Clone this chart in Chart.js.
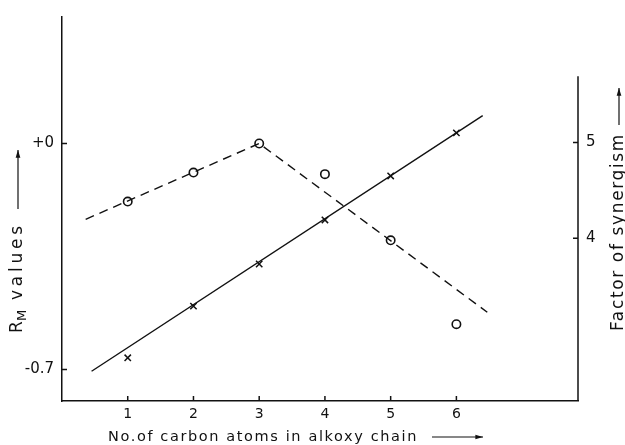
<!DOCTYPE html>
<html>
<head>
<meta charset="utf-8">
<script src="https://cdn.jsdelivr.net/npm/chart.js@4.4.1/dist/chart.umd.min.js"></script>
<style>
  html, body { margin: 0; padding: 0; background: #fff; }
  #wrap { width: 625px; height: 445px; }
</style>
</head>
<body>
<div id="wrap"><canvas id="chart" width="625" height="445"></canvas></div>
<script>
// measured points
const carbonAtoms = [1, 2, 3, 4, 5, 6];
const rmValues = [-0.18, -0.09, 0, -0.095, -0.30, -0.56];
const synergism = [2.75, 3.29, 3.73, 4.19, 4.65, 5.10];

// drawn trend lines
const rmLineX = [0.36, 3, 6.47];
const rmLineY = [-0.235, 0, -0.523];
const synLineX = [0.45, 6.40];
const synLineY = [2.61, 5.28];

// ticks
const xTicks = [1, 2, 3, 4, 5, 6];
const rmTicks = [-0.7, 0];
const rmTickLabels = ['-0.7', '+0'];
const synTicks = [4, 5];

const ink = '#111';
const font = "'DejaVu Sans', sans-serif";

const toPts = (xs, ys) => xs.map((x, i) => ({ x: x, y: ys[i] }));

// spread text out so it fills a given width (the scan uses wide lettering)
function spaced(ctx, text, x, y, width) {
    ctx.letterSpacing = '0px';
    const natural = ctx.measureText(text).width;
    ctx.letterSpacing = Math.max(0, (width - natural) / text.length) + 'px';
    ctx.fillText(text, x, y);
    ctx.letterSpacing = '0px';
}

// inward tick marks, short right axis, axis titles
const decor = {
    id: 'decor',
    afterDraw(chart) {
        const ctx = chart.ctx;
        const { x, y, y1 } = chart.scales;
        const area = chart.chartArea;
        ctx.save();
        ctx.strokeStyle = ink;
        ctx.lineWidth = 1.5;

        // right axis line (starts below the top of the left one)
        ctx.beginPath();
        ctx.moveTo(area.right, y1.getPixelForValue(5.69));
        ctx.lineTo(area.right, area.bottom);
        ctx.stroke();

        ctx.beginPath();
        xTicks.forEach(v => {
            const px = x.getPixelForValue(v);
            ctx.moveTo(px, area.bottom);
            ctx.lineTo(px, area.bottom - 5);
        });
        rmTicks.forEach(v => {
            const py = y.getPixelForValue(v);
            ctx.moveTo(area.left, py);
            ctx.lineTo(area.left + 5, py);
        });
        synTicks.forEach(v => {
            const py = y1.getPixelForValue(v);
            ctx.moveTo(area.right, py);
            ctx.lineTo(area.right - 5, py);
        });
        ctx.stroke();

        ctx.fillStyle = ink;
        ctx.lineWidth = 1.2;
        const arrow = (x0, y0, x1, y1) => {
            ctx.beginPath();
            ctx.moveTo(x0, y0);
            ctx.lineTo(x1, y1);
            ctx.stroke();
            const a = Math.atan2(y1 - y0, x1 - x0);
            ctx.beginPath();
            ctx.moveTo(x1, y1);
            ctx.lineTo(x1 - 8 * Math.cos(a - 0.3), y1 - 8 * Math.sin(a - 0.3));
            ctx.lineTo(x1 - 8 * Math.cos(a + 0.3), y1 - 8 * Math.sin(a + 0.3));
            ctx.closePath();
            ctx.fill();
        };

        ctx.textBaseline = 'middle';
        ctx.textAlign = 'left';

        // bottom title
        ctx.font = `14.5px ${font}`;
        spaced(ctx, 'No.of carbon atoms in alkoxy chain', 108, 437, 310);
        arrow(432, 437, 483, 437);

        // left title with subscript
        ctx.save();
        ctx.translate(18, 333);
        ctx.rotate(-Math.PI / 2);
        ctx.font = `17px ${font}`;
        spaced(ctx, 'R', 0, 0, 12);
        ctx.font = `13px ${font}`;
        spaced(ctx, 'M', 12, 5, 13);
        ctx.font = `17px ${font}`;
        spaced(ctx, 'values', 33, 0, 78);
        arrow(124, 0, 183, 0);
        ctx.restore();

        // right title
        ctx.save();
        ctx.translate(619, 331);
        ctx.rotate(-Math.PI / 2);
        ctx.font = `17px ${font}`;
        spaced(ctx, 'Factor of synergism', 0, 0, 198);
        arrow(206, 0, 243, 0);
        ctx.restore();

        ctx.restore();
    }
};

new Chart(document.getElementById('chart'), {
    type: 'scatter',
    data: {
        datasets: [
            {
                label: 'RM trend',
                type: 'line',
                data: toPts(rmLineX, rmLineY),
                yAxisID: 'y',
                borderColor: ink,
                borderWidth: 1.4,
                borderDash: [9, 6],
                pointRadius: 0,
                tension: 0
            },
            {
                label: 'Synergism trend',
                type: 'line',
                data: toPts(synLineX, synLineY),
                yAxisID: 'y1',
                borderColor: ink,
                borderWidth: 1.4,
                pointRadius: 0,
                tension: 0
            },
            {
                label: 'RM values',
                data: toPts(carbonAtoms, rmValues),
                yAxisID: 'y',
                pointStyle: 'circle',
                pointRadius: 4.2,
                backgroundColor: '#fff',
                borderColor: ink,
                borderWidth: 1.6
            },
            {
                label: 'Factor of synergism',
                data: toPts(carbonAtoms, synergism),
                yAxisID: 'y1',
                pointStyle: 'crossRot',
                pointRadius: 4.5,
                borderColor: ink,
                borderWidth: 1.5
            }
        ]
    },
    options: {
        responsive: false,
        animation: false,
        events: [],
        layout: { padding: { top: 12 } },
        plugins: {
            legend: { display: false },
            tooltip: { enabled: false }
        },
        scales: {
            x: {
                type: 'linear',
                min: 0,
                max: 7.85,
                afterBuildTicks: s => { s.ticks = xTicks.map(v => ({ value: v })); },
                afterFit: s => { s.height = 44; },
                grid: { drawOnChartArea: false, drawTicks: false },
                border: { color: ink, width: 1.5 },
                ticks: { color: ink, padding: 5, font: { family: font, size: 14 } }
            },
            y: {
                position: 'left',
                min: -0.798,
                max: 0.392,
                afterBuildTicks: s => { s.ticks = rmTicks.map(v => ({ value: v })); },
                afterFit: s => { s.width = 62; },
                grid: { drawOnChartArea: false, drawTicks: false },
                border: { color: ink, width: 1.5 },
                ticks: {
                    color: ink,
                    padding: 8,
                    font: { family: font, size: 15 },
                    callback: v => rmTickLabels[rmTicks.indexOf(v)]
                }
            },
            y1: {
                position: 'right',
                min: 2.299,
                max: 6.31,
                afterBuildTicks: s => { s.ticks = synTicks.map(v => ({ value: v })); },
                afterFit: s => { s.width = 47; },
                grid: { drawOnChartArea: false, drawTicks: false },
                border: { display: false },
                ticks: { color: ink, padding: 8, font: { family: font, size: 15 } }
            }
        }
    },
    plugins: [decor]
});
</script>
</body>
</html>
